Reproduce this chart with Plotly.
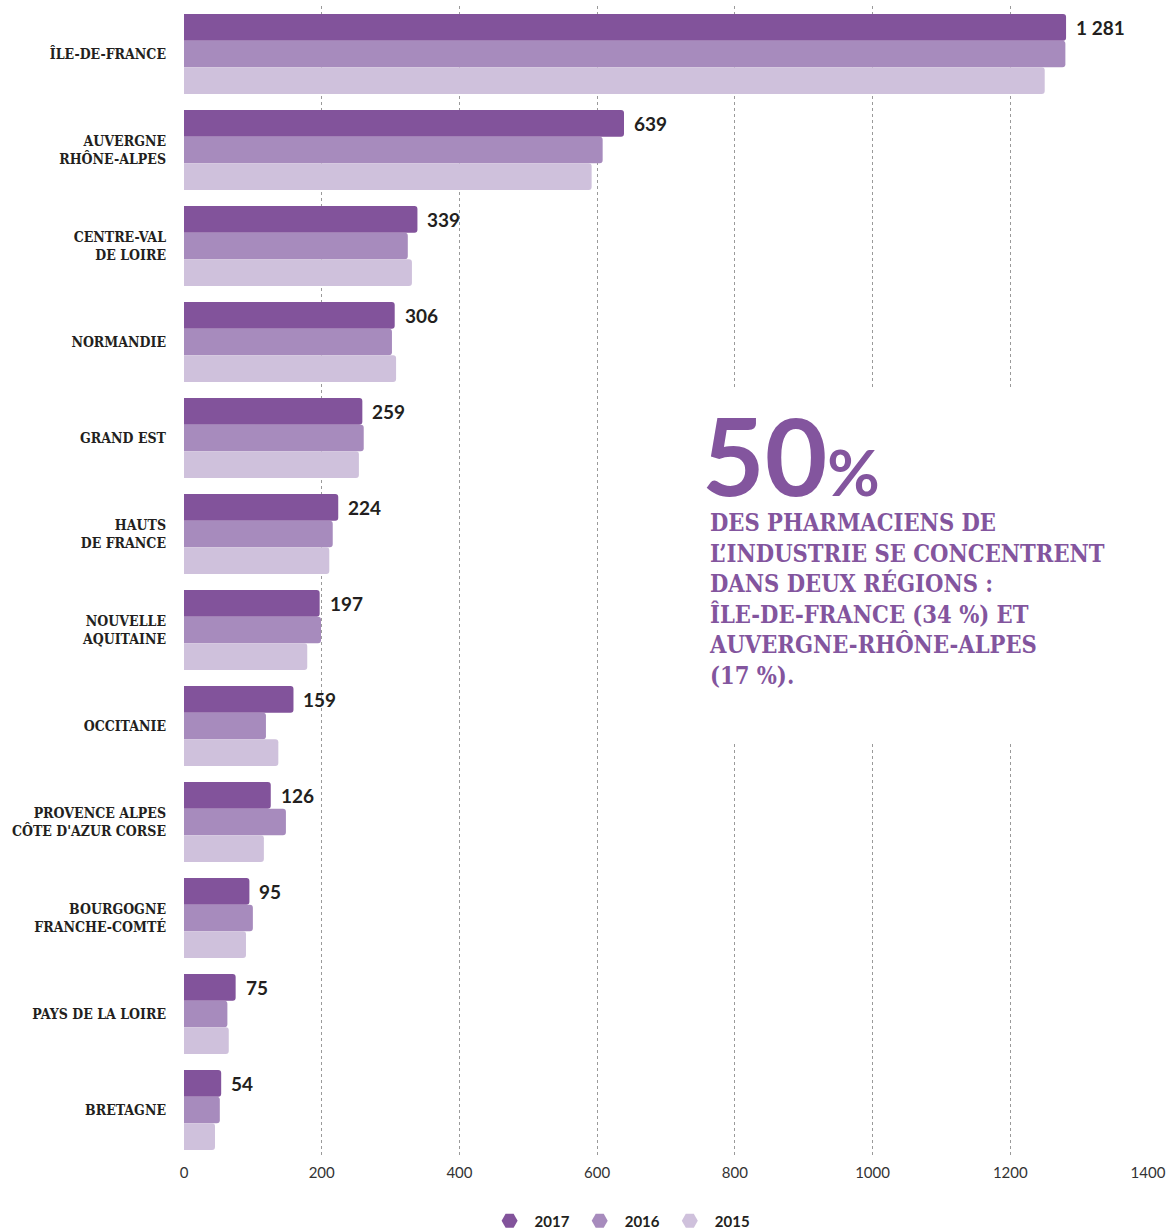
import plotly.graph_objects as go

regions = ["ÎLE-DE-FRANCE", "AUVERGNE<br>RHÔNE-ALPES", "CENTRE-VAL<br>DE LOIRE", "NORMANDIE",
           "GRAND EST", "HAUTS<br>DE FRANCE", "NOUVELLE<br>AQUITAINE", "OCCITANIE",
           "PROVENCE ALPES<br>CÔTE D'AZUR CORSE", "BOURGOGNE<br>FRANCHE-COMTÉ",
           "PAYS DE LA LOIRE", "BRETAGNE"]
v2017 = [1281, 639, 339, 306, 259, 224, 197, 159, 126, 95, 75, 54]
v2016 = [1280, 608, 325, 302, 261, 216, 199, 119, 148, 100, 63, 52]
v2015 = [1250, 592, 331, 308, 254, 211, 179, 137, 116, 90, 65, 45]
years = ["2017", "2016", "2015"]
colors = ["#82539B", "#A78BBD", "#CFC1DC"]
x_ticks = [0, 200, 400, 600, 800, 1000, 1200, 1400]

fig = go.Figure()
for name, vals, col in zip(years, [v2017, v2016, v2015], colors):
    fig.add_trace(go.Bar(y=regions, x=vals, orientation="h", name=name,
                         marker=dict(color=col, line=dict(width=0)),
                         showlegend=False, hoverinfo="x+name"))
for name, col in zip(years, colors):
    fig.add_trace(go.Scatter(x=[None], y=[None], mode="markers", name=name,
                             marker=dict(symbol="hexagon2", size=16, color=col)))

def fmt(v):
    return f"{v:,}".replace(",", " ")

for r, v in zip(regions, v2017):
    fig.add_annotation(x=v, y=r, xref="x", yref="y", text=fmt(v), showarrow=False,
                       xanchor="left", yanchor="middle", xshift=8, yshift=26.7,
                       font=dict(family="Lato", size=19, color="#231F20", weight=700))

purple = "#83559E"
# white panel behind the callout text (interrupts the gridlines)
fig.add_annotation(xref="paper", yref="paper", x=0.748, y=0.5148, xanchor="center", yanchor="middle",
                   text=" ", showarrow=False, bgcolor="white", width=430, height=350)
fig.add_annotation(xref="paper", yref="paper", x=0.5353, y=0.6111, xanchor="left", yanchor="middle",
                   text="50<span style='font-size:64px'>%</span>", showarrow=False,
                   font=dict(family="Lato", size=108, color=purple, weight=700))
fig.add_annotation(xref="paper", yref="paper", x=0.5425, y=0.4848, xanchor="left", yanchor="middle",
                   align="left", showarrow=False,
                   text=("DES PHARMACIENS DE<br>L’INDUSTRIE SE CONCENTRENT<br>DANS DEUX RÉGIONS :<br>"
                         "ÎLE-DE-FRANCE (34 %) ET<br>AUVERGNE-RHÔNE-ALPES<br>(17 %)."),
                   font=dict(family="DejaVu Serif Condensed", size=23.5, color=purple, weight=700))

fig.update_layout(
    width=1170, height=1231,
    margin=dict(l=184, r=22, t=6, b=73, autoexpand=False),
    paper_bgcolor="white", plot_bgcolor="white",
    barmode="group", bargap=0.1667, bargroupgap=0, barcornerradius=3,
    xaxis=dict(range=[0, 1400], tickvals=x_ticks, showgrid=True, gridcolor="#9a9a9a",
               griddash="3px,3px", gridwidth=1, zeroline=False, showline=False,
               tickfont=dict(family="Lato", size=15, color="#333333"), ticks="",
               ticklabelstandoff=4, automargin=False),
    yaxis=dict(type="category", autorange="reversed", showgrid=False, zeroline=False,
               showline=False, ticks="", ticklabelstandoff=17, automargin=False,
               tickfont=dict(family="DejaVu Serif Condensed", size=14, color="#231F20", weight=700)),
    legend=dict(orientation="h", xref="container", yref="container", x=0.53, y=0.0081,
                xanchor="center", yanchor="middle", font=dict(family="Lato", size=15, color="#231F20", weight=700),
                itemwidth=40),
    hovermode=False,
)

fig.write_html("out.html", config={"displayModeBar": False},
               post_script="document.body.style.margin='0px';document.body.style.overflow='hidden';")
